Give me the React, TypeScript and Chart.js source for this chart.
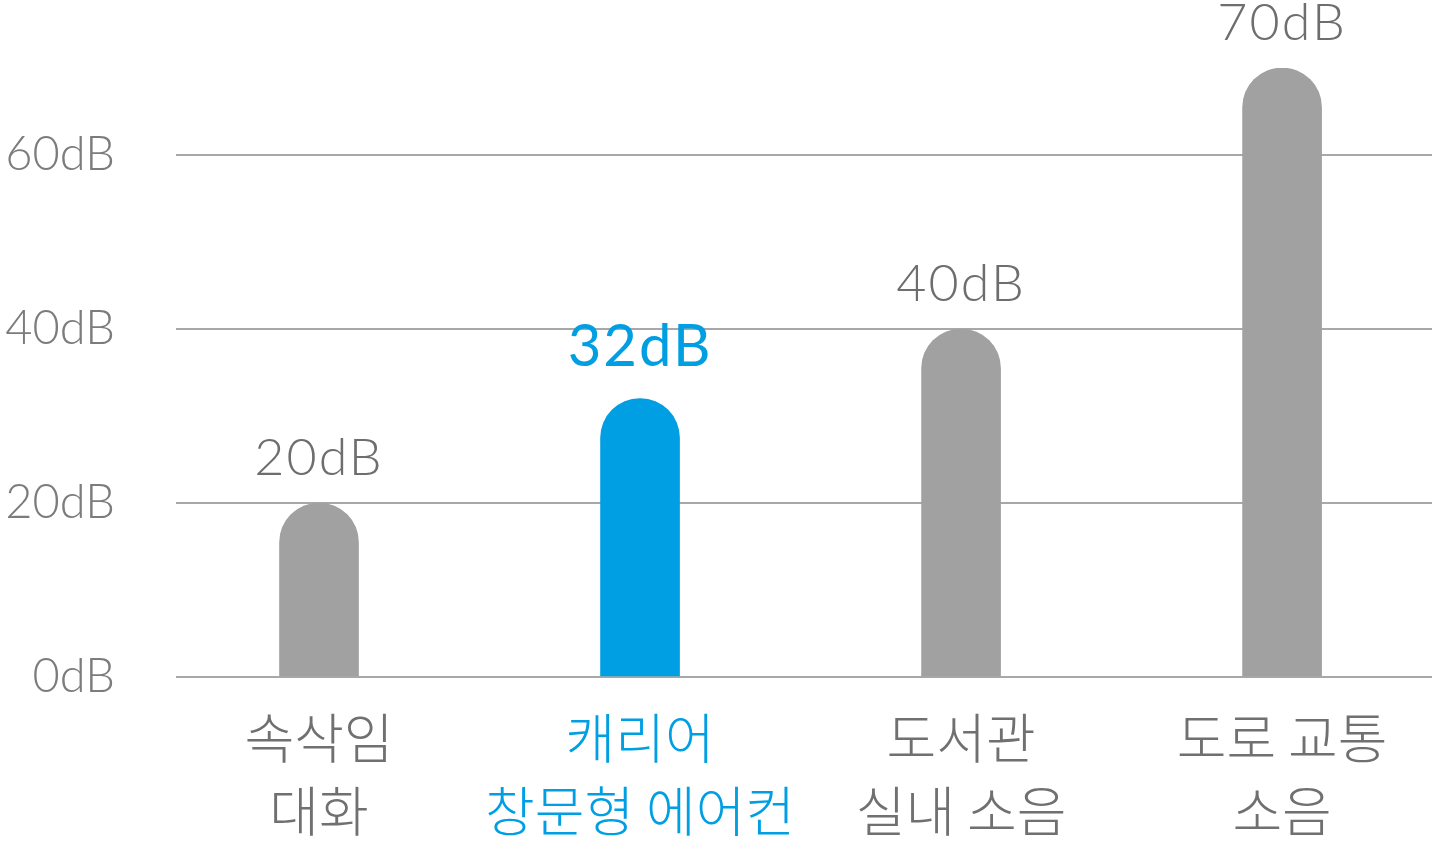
import React, { useEffect, useRef } from "react";
import { Chart, registerables } from "chart.js";

Chart.register(...registerables);

const categories: string[][] = [
  ["속삭임", "대화"],
  ["캐리어", "창문형 에어컨"],
  ["도서관", "실내 소음"],
  ["도로 교통", "소음"],
];
const positions = [0, 1, 2, 3];
const noiseValues = [20, 32, 40, 70];
const highlightIndex = 1;
const yTicks = [0, 20, 40, 60];

const GRAY_BAR = "#a0a1a0";
const BLUE = "#009fe3";
const LABEL_GRAY = "#6e6e6e";
const TICK_GRAY = "#7c7c7c";
const LATIN = "Lato, 'Noto Sans', sans-serif";
const KOREAN = "'Noto Sans CJK KR', 'Noto Sans', sans-serif";

const valueLabelPlugin = {
  id: "valueLabels",
  afterDatasetsDraw(chart: any) {
    const ctx = chart.ctx;
    const meta = chart.getDatasetMeta(0);
    ctx.save();
    ctx.textAlign = "center";
    ctx.textBaseline = "alphabetic";
    meta.data.forEach((el: any, i: number) => {
      const hl = i === highlightIndex;
      ctx.font = hl ? `400 58px ${LATIN}` : `300 52px ${LATIN}`;
      try {
        (ctx as any).letterSpacing = "2px";
      } catch (e) {}
      ctx.fillStyle = hl ? BLUE : LABEL_GRAY;
      ctx.fillText(`${noiseValues[i]}dB`, el.x, el.y - (hl ? 33 : 28));
    });
    ctx.restore();
  },
};

export default function App() {
  const ref = useRef<HTMLCanvasElement | null>(null);
  useEffect(() => {
    if (!ref.current) return;
    const chart = new Chart(ref.current, {
      type: "bar",
      data: {
        datasets: [
          {
            data: positions.map((p, i) => ({ x: p, y: noiseValues[i] })),
            backgroundColor: noiseValues.map((_, i) => (i === highlightIndex ? BLUE : GRAY_BAR)),
            borderRadius: { topLeft: 40, topRight: 40, bottomLeft: 0, bottomRight: 0 },
            borderSkipped: "bottom",
            barThickness: 79,
          } as any,
        ],
      },
      options: {
        responsive: false,
        animation: false,
        layout: { padding: 0 },
        plugins: { legend: { display: false }, tooltip: { enabled: false } },
        scales: {
          x: {
            type: "linear",
            position: "bottom",
            offset: false,
            min: -0.4455,
            max: 3.467,
            grid: { display: false, drawTicks: false },
            border: { display: false },
            afterBuildTicks: (scale: any) => {
              scale.ticks = positions.map((v) => ({ value: v }));
            },
            afterFit: (scale: any) => {
              scale.height = 167;
              scale.paddingLeft = 0;
              scale.paddingRight = 0;
            },
            ticks: {
              autoSkip: false,
              maxRotation: 0,
              padding: 25,
              font: { family: KOREAN, size: 54, weight: 300, lineHeight: 1.35 } as any,
              color: (c: any) => (c.index === highlightIndex ? BLUE : "#707070"),
              callback: (v: any) => categories[v as number] ?? "",
            },
          },
          y: {
            type: "linear",
            min: 0,
            max: 70,
            grid: { color: "#a8a8a8", lineWidth: 2, drawTicks: false },
            border: { display: false },
            afterBuildTicks: (scale: any) => {
              scale.ticks = yTicks.map((v) => ({ value: v }));
            },
            afterFit: (scale: any) => {
              scale.width = 176;
              scale.paddingTop = 68;
              scale.paddingBottom = 0;
            },
            ticks: {
              padding: 61,
              color: TICK_GRAY,
              font: { family: LATIN, size: 47, weight: 300 } as any,
              callback: (v: any) => `${v}dB`,
            },
          },
        },
      },
      plugins: [valueLabelPlugin],
    } as any);
    return () => chart.destroy();
  }, []);
  return (
    <div style={{ position: "fixed", left: 0, top: 0, width: 1432, height: 844, background: "#fff" }}>
      <canvas ref={ref} width={1432} height={844} style={{ display: "block" }} />
    </div>
  );
}
